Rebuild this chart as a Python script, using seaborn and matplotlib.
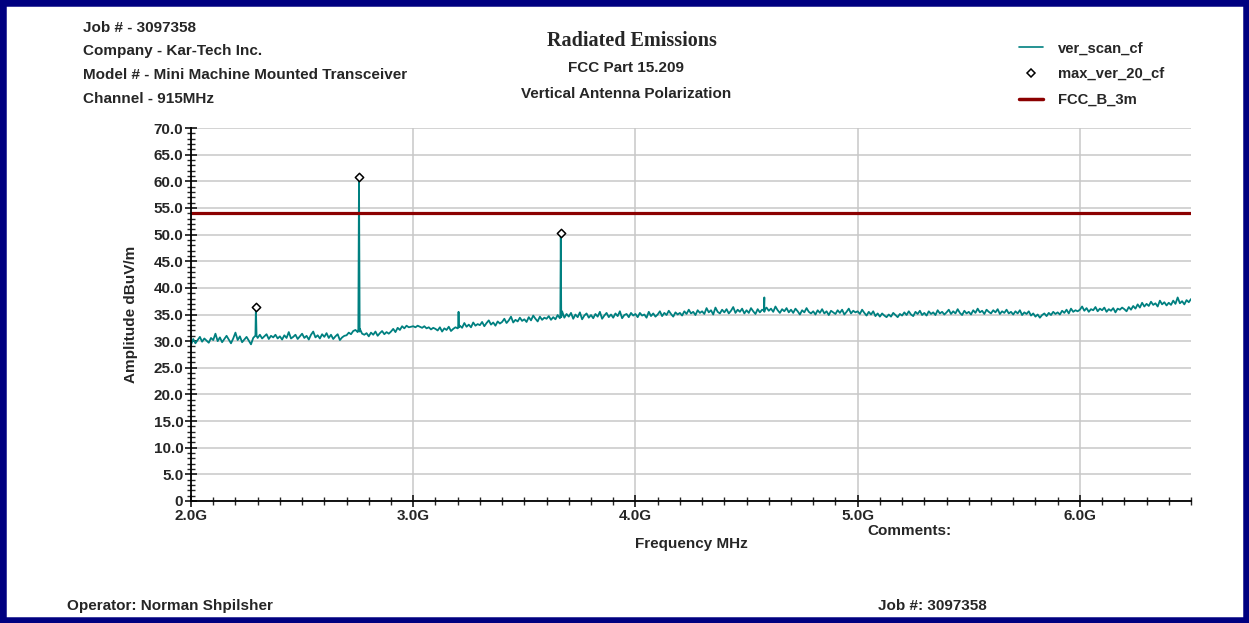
import numpy as np
import pandas as pd
import seaborn as sns
import matplotlib
matplotlib.use('Agg')
import matplotlib.pyplot as plt
from matplotlib.ticker import MultipleLocator, FuncFormatter
from matplotlib.lines import Line2D
from matplotlib.patches import Rectangle

# sweep trace, 2.0 - 6.5 GHz, step 0.01 GHz (one row = 0.1 GHz)
scan_db = [
    29.3, 30.4, 29.6, 30.2, 30.8, 29.9, 30.5, 30.1, 29.7, 30.6,
    30.2, 31.4, 30.0, 30.7, 29.8, 30.4, 31.0, 30.3, 29.6, 30.5,
    31.6, 30.2, 30.9, 29.8, 30.3, 30.8, 30.1, 29.4, 30.6, 31.1,
    30.6, 31.2, 30.5, 30.9, 31.3, 30.4, 31.0, 30.7, 31.2, 30.5,
    30.9, 30.3, 31.1, 30.6, 31.7, 30.5, 30.8, 31.2, 30.4, 30.9,
    31.4, 30.6, 31.0, 30.3, 31.2, 31.8, 30.7, 31.1, 30.5, 31.3,
    30.8, 31.5, 30.6, 31.2, 30.4, 30.9, 31.3, 30.2, 30.7, 31.0,
    31.1, 31.6, 31.3, 31.9, 32.1, 31.7, 32.3, 31.4, 31.2, 31.5,
    30.9, 31.6, 31.2, 31.8, 31.0, 31.5, 31.9, 31.3, 31.7, 31.4,
    31.8, 32.3, 31.7, 32.5, 32.1, 32.8, 32.4, 32.9, 32.6, 32.7,
    32.8, 32.6, 32.9, 32.7, 32.5, 32.8, 32.4, 32.6, 32.2, 32.5,
    32.3, 32.0, 32.6, 31.8, 32.4, 32.1, 32.7, 31.9, 32.3, 32.6,
    32.4, 32.9, 32.5, 33.4, 32.7, 33.1, 32.6, 33.5, 32.9, 33.2,
    33.0, 33.6, 32.8, 33.4, 33.9, 33.1, 33.5, 32.9, 33.7, 33.3,
    33.6, 34.2, 33.4, 33.9, 34.6, 33.5, 34.0, 33.7, 34.4, 33.8,
    34.1, 33.6, 34.5, 33.9, 34.8, 34.2, 33.7, 34.6, 34.0, 34.4,
    34.2, 34.7, 34.0, 34.5, 34.1, 34.9, 34.3, 35.6, 34.4, 35.1,
    34.6, 35.3, 34.2, 35.0, 34.5, 35.4, 34.1, 34.8, 35.2, 34.4,
    34.9, 34.3, 35.1, 34.6, 35.5, 34.2, 34.8, 35.3, 34.5, 35.0,
    34.4, 35.2, 34.7, 35.6, 34.3, 34.9, 35.1, 34.5, 35.3, 34.8,
    35.1, 34.5, 35.3, 34.8, 35.0, 34.4, 35.5, 34.7, 35.2, 34.6,
    35.0, 35.6, 34.7, 35.3, 34.9, 35.7, 35.1, 34.6, 35.4, 35.0,
    35.3, 34.8, 35.6, 35.1, 35.9, 35.2, 35.5, 34.9, 35.8, 35.3,
    35.6, 35.1, 36.2, 35.4, 35.8, 35.0, 36.3, 35.5, 35.2, 35.9,
    35.4, 36.0, 35.2, 35.7, 36.4, 35.3, 35.9, 35.5, 36.1, 35.2,
    35.8, 35.3, 36.2, 35.6, 35.1, 36.0, 35.4, 35.9, 35.5, 36.3,
    35.7, 36.1, 35.5, 36.5, 35.8, 35.3, 36.0, 35.6, 36.2, 35.4,
    35.9, 35.3, 36.1, 35.6, 35.0, 35.8, 35.4, 36.2, 35.5, 35.2,
    35.6, 35.0, 35.8, 35.3, 36.0, 35.2, 35.6, 34.9, 35.7, 35.4,
    35.1, 35.8, 35.3, 35.9, 35.0, 35.5, 36.1, 35.2, 35.7, 35.4,
    35.6, 35.1, 35.9, 35.3, 34.8, 35.5, 35.0, 35.6, 34.7, 35.2,
    34.6, 35.2, 34.8, 34.5, 35.0, 34.6, 35.3, 34.9, 34.5, 35.1,
    34.8, 35.4, 34.9, 35.6, 35.0, 34.7, 35.5, 35.1, 35.7, 34.9,
    35.3, 34.8, 35.6, 35.1, 35.4, 34.9, 35.8, 35.2, 35.5, 35.0,
    35.4, 35.9, 35.1, 35.6, 35.2, 36.0, 35.3, 34.9, 35.7, 35.2,
    35.5, 35.0, 35.8, 35.3, 36.1, 35.4, 35.7, 35.1, 35.9, 35.5,
    35.2, 35.8, 35.4, 36.0, 35.1, 35.6, 35.3, 35.9, 35.2, 35.5,
    35.0, 35.6, 35.2, 35.8, 34.9, 35.4, 35.1, 35.6, 34.8, 35.2,
    34.6, 35.0, 34.4, 34.9, 35.2, 34.7, 35.3, 34.9, 35.5, 35.1,
    35.4, 35.0, 35.7, 35.3, 35.9, 35.2, 36.1, 35.5, 35.8, 35.6,
    35.9, 36.5, 35.7, 36.2, 35.5, 36.0, 35.8, 36.4, 35.6, 36.1,
    35.8, 36.3, 35.5, 36.0, 35.7, 36.2, 35.4, 36.1, 35.9, 36.3,
    36.0, 35.6, 36.4, 35.9, 36.6, 36.1, 36.9, 36.3, 37.2, 36.5,
    37.0, 36.6, 37.4, 36.8, 37.1, 36.5, 37.6, 36.9, 37.3, 36.7,
    37.2, 36.8, 37.6, 37.0, 38.2, 37.1, 37.5, 36.9, 37.7, 37.3,
    37.9,
]
scan_ghz = np.linspace(2.0, 6.5, len(scan_db))

# narrow emissions in the sweep (with their shoulders)
spike_ghz = [2.289, 2.292, 2.295, 2.753, 2.756, 2.759, 3.202, 3.204, 3.206,
             3.662, 3.664, 3.666, 4.578, 4.580, 4.582]
spike_db = [31.0, 36.4, 31.0, 32.2, 60.8, 31.8, 32.5, 35.5, 32.6,
            34.6, 50.3, 34.5, 35.8, 38.2, 35.9]

# max_ver_20_cf points
max_ghz = [2.292, 2.756, 3.664]
max_db = [36.4, 60.8, 50.3]

limit_db = 54.0  # FCC_B_3m

teal = '#008080'
darkred = '#8b0000'
fs = 11

sns.set_style('white')
plt.rcParams['font.family'] = ['Liberation Sans', 'DejaVu Sans']
plt.rcParams['font.weight'] = 'bold'

scan = pd.concat([pd.DataFrame({'f': scan_ghz, 'db': scan_db}),
                  pd.DataFrame({'f': spike_ghz, 'db': spike_db})]).sort_values('f')
peaks = pd.DataFrame({'f': max_ghz, 'db': max_db})

fig = plt.figure(figsize=(12.49, 6.23), dpi=100)
ax = fig.add_axes([191 / 1249, 1 - 501 / 623, 1000 / 1249, 373 / 623])

ax.grid(True, color='#c8c8c8', lw=1.1)
ax.set_axisbelow(True)
sns.lineplot(data=scan, x='f', y='db', color=teal, lw=1.3, sort=False, estimator=None, ax=ax)
ax.axhline(limit_db, color=darkred, lw=2.3)
sns.scatterplot(data=peaks, x='f', y='db', marker='D', s=18, facecolor='white',
                edgecolor='black', linewidth=1.1, zorder=5, ax=ax)

ax.set_xlim(2.0, 6.5)
ax.set_ylim(0, 70)
ax.xaxis.set_major_locator(MultipleLocator(1.0))
ax.xaxis.set_minor_locator(MultipleLocator(0.1))
ax.yaxis.set_major_locator(MultipleLocator(5))
ax.yaxis.set_minor_locator(MultipleLocator(1))
ax.xaxis.set_major_formatter(FuncFormatter(lambda v, p: f'{v:.1f}G'))
ax.yaxis.set_major_formatter(FuncFormatter(lambda v, p: '0' if v == 0 else f'{v:.1f}'))
ax.tick_params(which='major', direction='inout', length=9, width=1.3, labelsize=fs, pad=1)
ax.tick_params(which='minor', direction='inout', length=6, width=1.0)
ax.tick_params(axis='x', which='both', bottom=True)
ax.tick_params(axis='y', which='both', left=True)
for t in ax.get_xticklabels() + ax.get_yticklabels():
    t.set_fontweight('bold')

for s in ['top', 'right']:
    ax.spines[s].set_visible(False)
for s in ['left', 'bottom']:
    ax.spines[s].set_color('black')
    ax.spines[s].set_linewidth(1.3)

ax.set_xlabel('Frequency MHz', fontsize=fs, fontweight='bold', labelpad=10)
ax.set_ylabel('Amplitude dBuV/m', fontsize=fs, fontweight='bold', labelpad=11)

# header block
for i, txt in enumerate(['Job # - 3097358', 'Company - Kar-Tech Inc.',
                         'Model # - Mini Machine Mounted Transceiver', 'Channel - 915MHz']):
    fig.text(83 / 1249, 1 - (27.5 + i * 23.7) / 623, txt, fontsize=fs, fontweight='bold', va='center')

fig.text(632 / 1249, 1 - 41 / 623, 'Radiated Emissions', fontsize=14.5, fontweight='bold',
         family=['Liberation Serif', 'DejaVu Serif'], ha='center', va='center')
fig.text(626 / 1249, 1 - 68.5 / 623, 'FCC Part 15.209', fontsize=fs, fontweight='bold', ha='center', va='center')
fig.text(626 / 1249, 1 - 94.5 / 623, 'Vertical Antenna Polarization', fontsize=fs, fontweight='bold',
         ha='center', va='center')

handles = [Line2D([], [], color=teal, lw=1.2),
           Line2D([], [], ls='none', marker='D', ms=4, mfc='white', mec='black', mew=1.1),
           Line2D([], [], color=darkred, lw=2.5)]
fig.legend(handles, ['ver_scan_cf', 'max_ver_20_cf', 'FCC_B_3m'], loc='upper left',
           bbox_to_anchor=(1006 / 1249, 1 - 28 / 623), frameon=False,
           prop={'weight': 'bold', 'size': 10.6}, handlelength=1.6, labelspacing=0.8, handletextpad=1.0)

fig.text(867 / 1249, 1 - 531 / 623, 'Comments:', fontsize=fs, fontweight='bold', va='center')
fig.text(67 / 1249, 1 - 606 / 623, 'Operator: Norman Shpilsher', fontsize=fs, fontweight='bold', va='center')
fig.text(878 / 1249, 1 - 606 / 623, 'Job #: 3097358', fontsize=fs, fontweight='bold', va='center')

fig.patches.append(Rectangle((0, 0), 1, 1, transform=fig.transFigure, fill=False,
                             edgecolor='#000080', linewidth=9))

fig.savefig('out.png', dpi=100)
